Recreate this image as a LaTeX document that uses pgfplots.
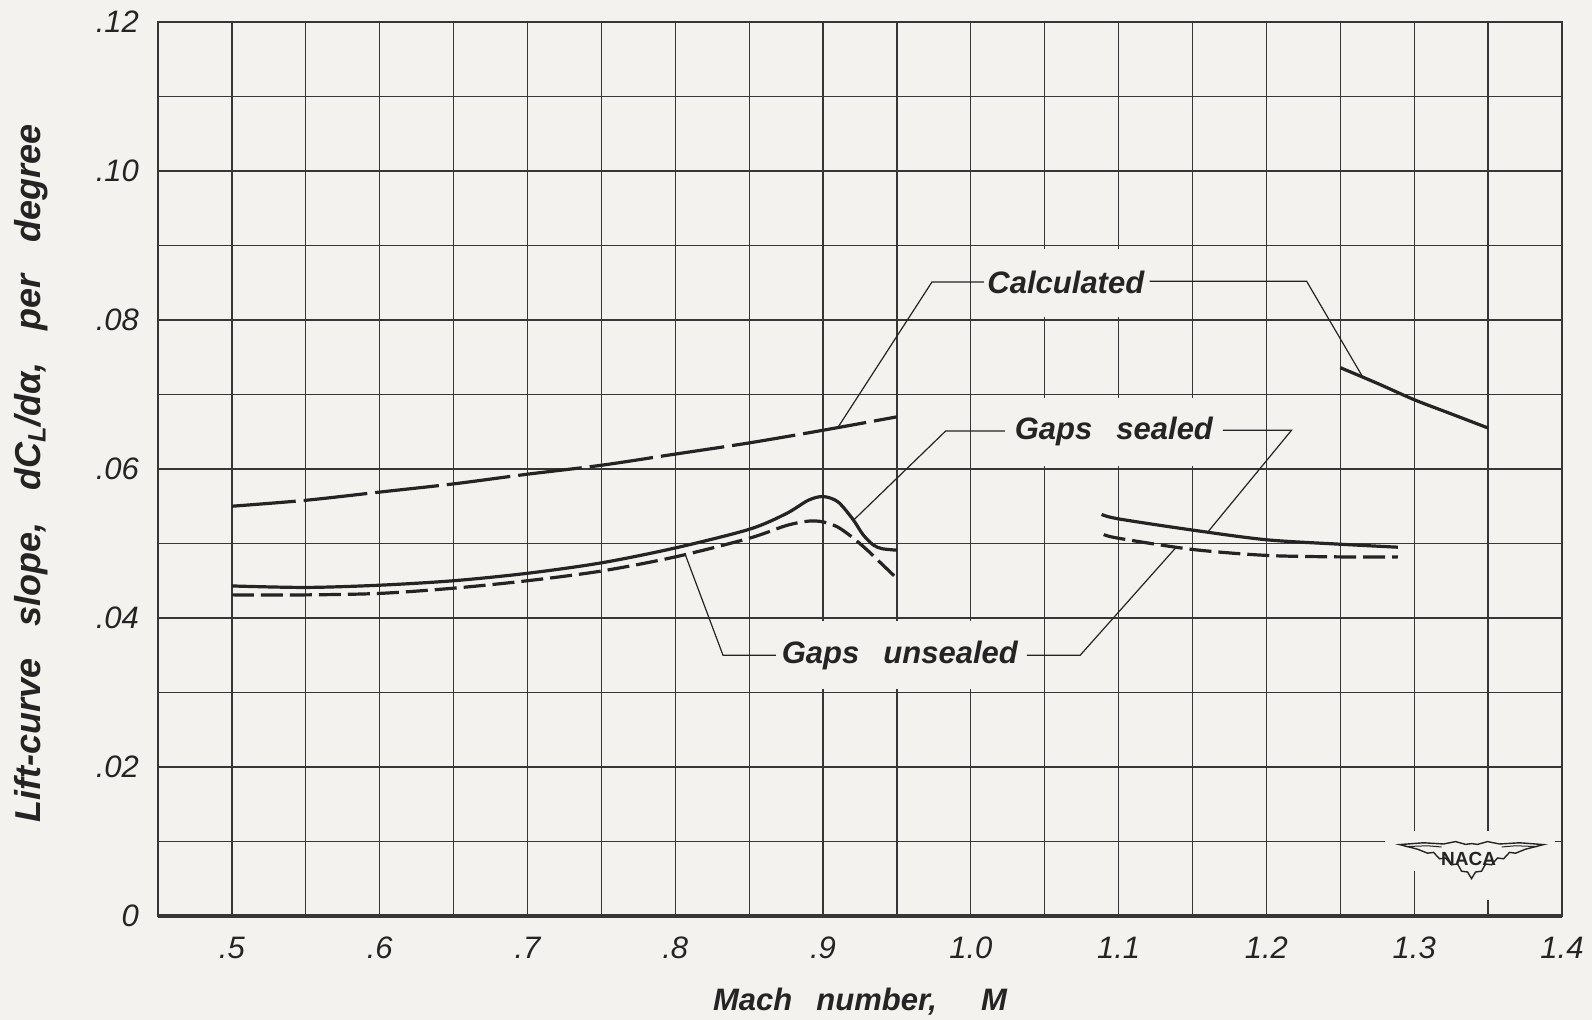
\documentclass[border=0pt]{standalone}
\usepackage{fontspec}
\setmainfont{Liberation Sans}[WordSpace=2.8]
\newfontfamily\ylabfam{Liberation Sans}[WordSpace=3.2]
\usepackage{pgfplots}
\pgfplotsset{compat=1.18}
\definecolor{paper}{HTML}{F3F2EE}
\definecolor{gridc}{HTML}{363636}
\definecolor{ink}{HTML}{242424}
\newcommand\tickfont{\itshape\fontsize{15.5}{18}\selectfont}
\newcommand\labfont{\bfseries\itshape\fontsize{15.5}{19}\selectfont}
\newcommand\xlabfont{\bfseries\itshape\fontsize{15.5}{19}\selectfont}
\newcommand\ylabfont{\ylabfam\bfseries\itshape\fontsize{18}{21}\selectfont}
\begin{document}
\begin{tikzpicture}
\path[use as bounding box, fill=paper] (-79pt,-52pt) rectangle (717pt,458pt);
\begin{axis}[
  at={(0,0)}, anchor=south west,
  scale only axis, width=702pt, height=447pt,
  xmin=0.45, xmax=1.40, ymin=0, ymax=0.12,
  clip=false,
  xtick={0.5,0.6,0.7,0.8,0.9,1.0,1.1,1.2,1.3,1.4},
  xticklabels={.5,.6,.7,.8,.9,1.0,1.1,1.2,1.3,1.4},
  minor xtick={0.45,0.55,0.65,0.75,0.85,0.95,1.05,1.15,1.25,1.35},
  ytick={0,0.02,0.04,0.06,0.08,0.10,0.12},
  yticklabels={0,.02,.04,.06,.08,.10,.12},
  minor ytick={0.01,0.03,0.05,0.07,0.09,0.11},
  grid=both,
  grid style={line width=0.65pt, draw=gridc},
  minor grid style={line width=0.65pt, draw=gridc},
  major grid style={line width=0.65pt, draw=gridc},
  axis line style={line width=0.65pt, draw=gridc},
  major tick length=0pt, minor tick length=0pt,
  tick label style={font=\tickfont, text=ink},
  xticklabel style={yshift=-7pt},
  yticklabel style={xshift=-6pt},
  xlabel={Mach number,\hspace{22pt}M},
  ylabel={Lift-curve slope, dC\textsubscript{L}/dα, per degree},
  xlabel style={font=\xlabfont, text=ink, at={(axis description cs:0.5,-0.0962)}, anchor=center},
  ylabel style={font=\ylabfont, text=ink, at={(axis description cs:-0.0905,0.495)}, anchor=center},
]
% erased grid behind the NACA emblem
\fill[paper] (axis cs:1.280,0.0060) rectangle (axis cs:1.395,0.0114);
\fill[paper] (axis cs:1.305,0.0022) rectangle (axis cs:1.395,0.0060);

% Calculated
\addplot[ink, line width=1.6pt, smooth, dash pattern=on 32pt off 4pt] coordinates {
(0.50,0.0550) (0.55,0.0558) (0.60,0.0569) (0.65,0.0580) (0.70,0.0593)
(0.75,0.0605) (0.80,0.0620) (0.85,0.0635) (0.90,0.0652) (0.95,0.0670)};
\addplot[ink, line width=1.6pt, smooth] coordinates {
(1.25,0.0736) (1.275,0.0715) (1.30,0.0693) (1.325,0.0674) (1.35,0.0655)};

% Gaps sealed
\addplot[ink, line width=1.6pt, smooth] coordinates {
(0.50,0.0443) (0.55,0.0441) (0.60,0.0444) (0.65,0.0450) (0.70,0.0460)
(0.75,0.0474) (0.80,0.0494) (0.85,0.0519) (0.875,0.0540) (0.89,0.0558)
(0.90,0.0563) (0.91,0.0556) (0.92,0.0533) (0.927,0.0512) (0.934,0.0498)
(0.94,0.0493) (0.95,0.0491)};
\addplot[ink, line width=1.6pt, smooth] coordinates {
(1.0885,0.0539) (1.10,0.0533) (1.15,0.0518) (1.20,0.0505) (1.25,0.0499) (1.289,0.0495)};

% Gaps unsealed
\addplot[ink, line width=1.6pt, smooth, dash pattern=on 11pt off 3.5pt] coordinates {
(0.50,0.0431) (0.55,0.0431) (0.60,0.0433) (0.65,0.0440) (0.70,0.0450)
(0.75,0.0463) (0.80,0.0482) (0.85,0.0507) (0.875,0.0524) (0.89,0.0530)
(0.90,0.0529) (0.91,0.0522) (0.92,0.0508) (0.93,0.0491) (0.94,0.0472) (0.95,0.0453)};
\addplot[ink, line width=1.6pt, smooth, dash pattern=on 11pt off 3.5pt] coordinates {
(1.09,0.0512) (1.10,0.0507) (1.15,0.0492) (1.20,0.0484) (1.25,0.0482) (1.289,0.0482)};

% leader lines
\draw[ink, line width=0.6pt] (axis cs:0.9098,0.0655) -- (axis cs:0.9737,0.0851) -- (axis cs:1.0095,0.0851);
\draw[ink, line width=0.6pt] (axis cs:1.121,0.0852) -- (axis cs:1.2272,0.0852) -- (axis cs:1.2656,0.0722);
\draw[ink, line width=0.6pt] (axis cs:0.921,0.0532) -- (axis cs:0.983,0.0651) -- (axis cs:1.023,0.0651);
\draw[ink, line width=0.6pt] (axis cs:1.1706,0.0652) -- (axis cs:1.217,0.0652) -- (axis cs:1.1606,0.0516);
\draw[ink, line width=0.6pt] (axis cs:0.807,0.0484) -- (axis cs:0.8323,0.035) -- (axis cs:0.868,0.035);
\draw[ink, line width=0.6pt] (axis cs:1.038,0.035) -- (axis cs:1.074,0.035) -- (axis cs:1.139,0.0495);

% annotation texts (grid erased behind them)
\node[fill=paper, inner xsep=1.5pt, inner ysep=0pt, minimum height=34pt, font=\labfont, text=ink] at (axis cs:1.0643,0.085) {Calculated};
\node[fill=paper, inner xsep=1.5pt, inner ysep=0pt, minimum height=34pt, font=\labfont, text=ink] at (axis cs:1.0968,0.065) {Gaps sealed};
\node[fill=paper, inner xsep=1.5pt, inner ysep=0pt, minimum height=34pt, font=\labfont, text=ink] at (axis cs:0.952,0.035) {Gaps unsealed};

\draw[gridc, line width=2pt] (axis cs:0.45,0) -- (axis cs:1.40,0);
\coordinate (naca) at (axis cs:1.3388,0.00757);
\end{axis}
\begin{scope}[shift={(naca)}, ink, line width=0.7pt, x=1pt, y=1pt]
\draw (-36,7.5) -- (-24,8.4) -- (-14,7.8) -- (-8,9) -- (-3,7.6) -- (0,8) -- (3,7.6) -- (8,9) -- (14,7.8) -- (24,8.4) -- (36,7.5)
  -- (27,5.2) -- (22,3.2) -- (19,3.6) -- (16,0.4) -- (13,0.8) -- (10,-2.6) -- (7,-2.2) -- (5,-5.8) -- (2,-6.2) -- (0,-9.5)
  -- (-2,-6.2) -- (-5,-5.8) -- (-7,-2.2) -- (-10,-2.6) -- (-13,0.8) -- (-16,0.4) -- (-19,3.6) -- (-22,3.2) -- (-27,5.2) -- cycle;
\draw[line width=0.5pt] (-33,6.5) -- (-22,6.9) -- (-15,6.3);
\draw[line width=0.5pt] (33,6.5) -- (22,6.9) -- (15,6.3);
\node[font=\upshape\bfseries\fontsize{9.5}{11}\selectfont, text=ink, inner sep=0pt] at (-1.5,0.3) {NACA};
\end{scope}
\end{tikzpicture}
\end{document}
